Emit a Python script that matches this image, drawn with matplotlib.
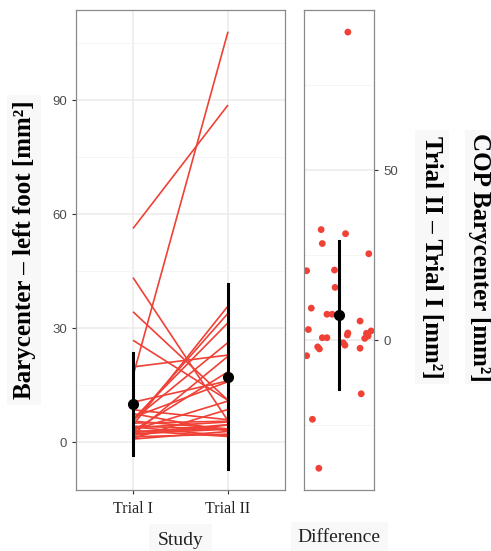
import numpy as np
import matplotlib
matplotlib.use("Agg")
import matplotlib.pyplot as plt

# barycenter area per subject, trial I and trial II [mm^2]
trial1 = [56.2, 17.4, 43.3, 34.3, 26.8, 19.8, 4.5, 5.5, 6.0, 5.8,
          2.0, 3.0, 6.5, 3.2, 1.0, 10.5, 1.8, 2.5, 3.8, 0.8,
          5.0, 2.2, 2.8, 1.4, 4.2, 3.0, 5.5, 8.5, 4.0, 7.5]
trial2 = [88.7, 108.0, 5.6, 11.0, 11.0, 22.9, 35.8, 33.9, 31.4, 26.2,
          22.6, 18.5, 15.9, 10.8, 8.6, 16.1, 4.5, 4.6, 5.3, 2.8,
          5.5, 3.4, 3.5, 2.1, 3.4, 1.5, 3.5, 5.9, 1.6, 2.9]
# horizontal jitter of the difference points
jitter = [-0.31, 0.15, -0.35, -0.46, 0.38, -0.53, 0.11, -0.29, 0.51, -0.56,
          -0.08, -0.07, -0.48, -0.21, -0.12, 0.36, 0.55, 0.15, 0.14, 0.47,
          0.44, 0.50, -0.29, -0.21, 0.07, 0.10, -0.37, -0.34, 0.36, -0.56]
trial_labels = ["Trial I", "Trial II"]

t1 = np.array(trial1)
t2 = np.array(trial2)
diff = t2 - t1

red = "#EF4136"
grid_major = "#EBEBEB"
grid_minor = "#F4F4F4"
border = "#8A8A8A"
box_bg = "#F8F8F8"
SERIF = "Liberation Serif"
SANS = "Liberation Sans"

fig = plt.figure(figsize=(4.91, 5.51), dpi=100)
ax1 = fig.add_axes([76 / 491, 1 - 490 / 551, 209 / 491, 480 / 551])
ax2 = fig.add_axes([304.3 / 491, 1 - 490 / 551, 69.7 / 491, 480 / 551])


def style(ax):
    for s in ax.spines.values():
        s.set_color(border)
        s.set_linewidth(0.9)
    ax.set_facecolor("white")
    ax.set_axisbelow(True)
    ax.tick_params(axis="both", colors="#333333", length=3, width=0.8,
                   labelcolor="#4D4D4D")
    ax.tick_params(axis="y", which="minor", length=0)


# --- left panel: paired lines
style(ax1)
ax1.set_xlim(0.4, 2.6)
ax1.set_ylim(-12.6, 113.7)
ax1.set_yticks([0, 30, 60, 90])
ax1.set_yticklabels(["0", "30", "60", "90"], fontfamily=SANS, fontsize=9.5)
ax1.set_yticks([15, 45, 75, 105], minor=True)
ax1.set_xticks([1, 2])
ax1.set_xticklabels(trial_labels, fontfamily=SERIF, fontsize=11.5, color="#222222")
ax1.tick_params(axis="x", pad=5)
ax1.grid(True, which="major", color=grid_major, lw=1.1)
ax1.grid(True, which="minor", axis="y", color=grid_minor, lw=0.6)
for a, b in zip(t1, t2):
    ax1.plot([1, 2], [a, b], color=red, lw=1.2, solid_capstyle="butt", zorder=2)
means = [t1.mean(), t2.mean()]
sds = [t1.std(ddof=1), t2.std(ddof=1)]
for xi, m, s in zip([1, 2], means, sds):
    ax1.plot([xi, xi], [m - s, m + s], color="black", lw=2.2, zorder=3)
    ax1.plot(xi, m, "o", color="black", ms=7, zorder=4)
ax1.set_xlabel("Study", fontfamily=SERIF, fontsize=14, color="#222222", labelpad=11,
               bbox=dict(facecolor=box_bg, edgecolor="none", pad=6))
ax1.set_ylabel("Barycenter \u2013 left foot [mm\u00b2]", fontfamily=SERIF, fontsize=18,
               fontweight="bold", labelpad=12,
               bbox=dict(facecolor=box_bg, edgecolor="none", pad=4))

# --- right panel: differences
style(ax2)
ax2.set_xlim(-0.6, 0.6)
ax2.set_ylim(-44.1, 97.1)
ax2.yaxis.tick_right()
ax2.set_yticks([0, 50])
ax2.set_yticklabels(["0", "50"], fontfamily=SANS, fontsize=9.5)
ax2.set_yticks([-25, 25, 75], minor=True)
ax2.set_xticks([])
ax2.grid(True, which="major", axis="y", color=grid_major, lw=1.1)
ax2.grid(True, which="minor", axis="y", color=grid_minor, lw=0.6)
ax2.scatter(jitter, diff, s=24, color=red, edgecolor="none", zorder=2)
dm = diff.mean()
ds = diff.std(ddof=1)
ax2.plot([0, 0], [dm - ds, dm + ds], color="black", lw=2.2, zorder=3)
ax2.plot(0, dm, "o", color="black", ms=7, zorder=4)
ax2.set_xlabel("Difference", fontfamily=SERIF, fontsize=14, color="#222222", labelpad=28,
               bbox=dict(facecolor=box_bg, edgecolor="none", pad=5))

fig.text(432 / 491, 1 - 257 / 551, "Trial II \u2013 Trial I [mm\u00b2]", fontfamily=SERIF,
         fontsize=18, fontweight="bold", rotation=270, ha="center", va="center",
         bbox=dict(facecolor=box_bg, edgecolor="none", pad=4))
fig.text(479 / 491, 1 - 257 / 551, "COP Barycenter [mm\u00b2]", fontfamily=SERIF,
         fontsize=18, fontweight="bold", rotation=270, ha="center", va="center",
         bbox=dict(facecolor=box_bg, edgecolor="none", pad=2))

fig.savefig("out.png", dpi=100, facecolor="white")
